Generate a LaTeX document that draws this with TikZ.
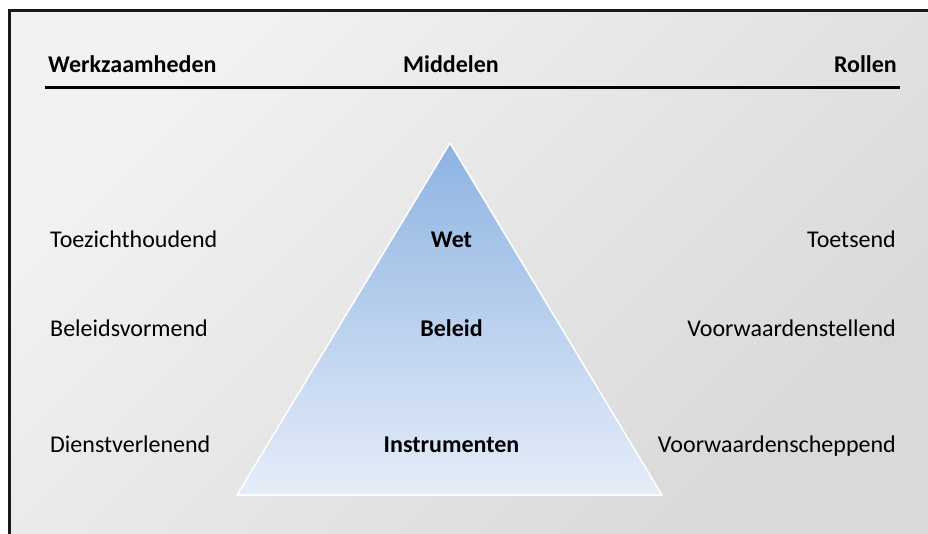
\documentclass[tikz,border=0pt]{standalone}
\usepackage{fontspec}
\setmainfont{Carlito}
\begin{document}
\begin{tikzpicture}[x=1pt,y=-1pt,
  lbl/.style={inner sep=0pt,font=\fontsize{24}{28}\selectfont},
  head/.style={lbl,font=\fontsize{24}{28}\selectfont\bfseries},
  frameline/.style={draw=black!90,line width=2.4pt},
  rule/.style={draw=black,line width=3pt}]
  % canvas
  \useasboundingbox (0,0) rectangle (928,534);
  \fill[white] (0,0) rectangle (928,534);
  % shaded panel behind everything
  \shade[top color=black!5, bottom color=black!15, shading angle=45]
    (9.5,10.5) rectangle (928,534);
  % open frame: top and left edges
  \draw[frameline] (928,10.5) -- (9.5,10.5) -- (9.5,534);

  % column headings
  \node[head,anchor=base west] (hw) at (48,72.5) {Werkzaamheden};
  \node[head,anchor=base] (hm) at (451,72.5) {Middelen};
  \node[head,anchor=base east] (hr) at (897,72.5) {Rollen};
  \coordinate (rl) at (45,88);
  \coordinate (rr) at (900,88);
  \draw[rule] (rl) -- (rr);

  % pyramid of means
  \coordinate (apex) at (450,143);
  \coordinate (bl) at (237,495);
  \coordinate (br) at (662,495);
  \shade[top color={rgb,255:red,141;green,179;blue,226},
         bottom color={rgb,255:red,230;green,237;blue,249},
         draw=white,line width=1.5pt,line join=round]
    (apex) -- (br) -- (bl) -- cycle;

  \node[head,anchor=base] (wet) at (451.5,247.5) {Wet};
  \node[head,anchor=base] (bel) at (451.5,336) {Beleid};
  \node[head,anchor=base] (ins) at (451.5,452.5) {Instrumenten};

  % activities
  \node[lbl,anchor=base west] (a1) at (50,247.5) {Toezichthoudend};
  \node[lbl,anchor=base west] (a2) at (50,336) {Beleidsvormend};
  \node[lbl,anchor=base west] (a3) at (50,452.5) {Dienstverlenend};

  % roles
  \node[lbl,anchor=base east] (r1) at (896,247.5) {Toetsend};
  \node[lbl,anchor=base east] (r2) at (896,336) {Voorwaardenstellend};
  \node[lbl,anchor=base east] (r3) at (896,452.5) {Voorwaardenscheppend};
\end{tikzpicture}
\end{document}
